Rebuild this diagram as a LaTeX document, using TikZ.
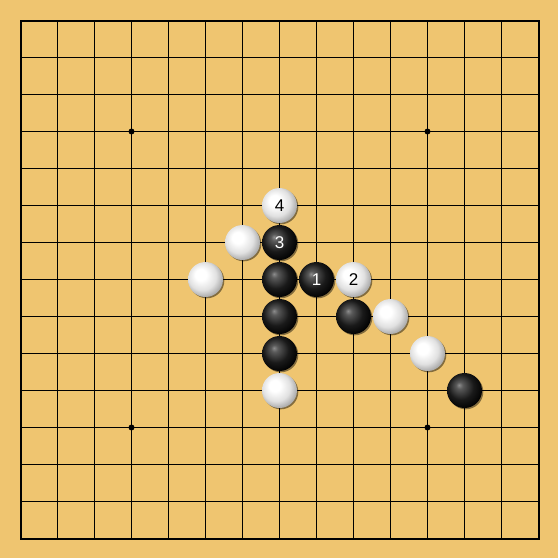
\documentclass[tikz,border=0pt]{standalone}
\usepackage{fontspec}
\setmainfont{Liberation Sans}
\usetikzlibrary{shadows}
\definecolor{wood}{RGB}{239,197,112}
\pgfdeclareradialshading{blackstone}{\pgfpoint{-8bp}{8bp}}{color(0bp)=(black!45); color(5bp)=(black!65); color(18bp)=(black!90); color(30bp)=(black); color(50bp)=(black)}
\pgfdeclareradialshading{whitestone}{\pgfpoint{-8bp}{8bp}}{color(0bp)=(white); color(8bp)=(white); color(20bp)=(black!12); color(32bp)=(black!42); color(50bp)=(black!42)}
\tikzset{
  stonebase/.style={circle, minimum size=35pt, inner sep=0pt, font=\fontsize{17}{17}\selectfont,
    drop shadow={shadow xshift=1.3pt, shadow yshift=-1.3pt, opacity=.45, fill=black}},
  bstone/.style={stonebase, shading=blackstone, text=white},
  wstone/.style={stonebase, shading=whitestone, text=black},
  gridline/.style={line width=1pt, black},
  border/.style={line width=2pt, black},
  star/.style={circle, fill=black, inner sep=0pt, minimum size=6pt},
}
\begin{document}
\begin{tikzpicture}[x=1pt,y=-1pt]
\useasboundingbox (0,0) rectangle (558,558);
\fill[wood] (0,0) rectangle (558,558);
\begin{scope}[shift={(0.5,0.5)}]
\foreach \i in {1,...,13}{
  \draw[gridline] ({20+37*\i},20) -- ({20+37*\i},538);
  \draw[gridline] (20,{20+37*\i}) -- (538,{20+37*\i});
}
\draw[border] (20,20) rectangle (538,538);
\node[star] (st1) at (131,131) {};
\node[star] (st2) at (427,131) {};
\node[star] (st3) at (131,427) {};
\node[star] (st4) at (427,427) {};
% stones: x = 20+37c, y = 20+37r
\node[wstone] (w4) at (279,205) {4};
\node[wstone] (wa) at (242,242) {};
\node[bstone] (b3) at (279,242) {3};
\node[wstone] (wb) at (205,279) {};
\node[bstone] (ba) at (279,279) {};
\node[bstone] (b1) at (316,279) {1};
\node[wstone] (w2) at (353,279) {2};
\node[bstone] (bb) at (279,316) {};
\node[bstone] (bc) at (353,316) {};
\node[wstone] (wc) at (390,316) {};
\node[bstone] (bd) at (279,353) {};
\node[wstone] (wd) at (427,353) {};
\node[wstone] (we) at (279,390) {};
\node[bstone] (be) at (464,390) {};
\end{scope}
\end{tikzpicture}
\end{document}
